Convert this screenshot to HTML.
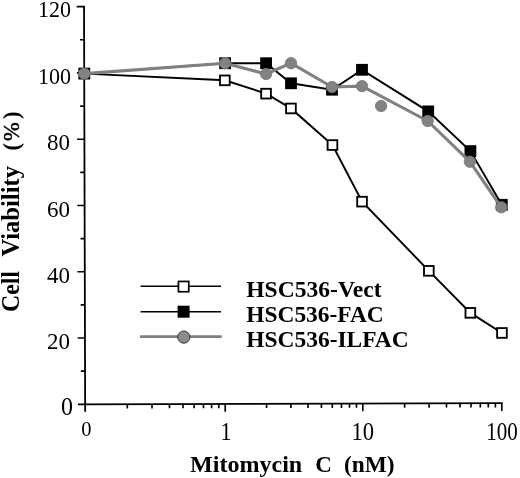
<!DOCTYPE html>
<html lang="en"><head><meta charset="utf-8"><title>Cell Viability vs Mitomycin C</title>
<style>html,body{margin:0;padding:0;background:#fff}body{width:520px;height:478px;overflow:hidden}</style></head>
<body>
<svg width="520" height="478" viewBox="0 0 520 478" style="display:block">
<rect width="520" height="478" fill="#fff"/>
<g stroke="#000" stroke-width="1.8" fill="none" stroke-linecap="butt" transform="rotate(-0.16 85.15 404.3)">
<path d="M85.15 5.69V411.7"/>
<path d="M77.85 404.3H502.7"/>
<g stroke-width="1.65">
<path d="M77.85 338.02H85.15"/>
<path d="M77.85 271.75H85.15"/>
<path d="M77.85 205.47H85.15"/>
<path d="M77.85 139.20H85.15"/>
<path d="M77.85 72.92H85.15"/>
<path d="M77.85 6.64H85.15"/>
<path d="M80.95 371.16H85.15"/>
<path d="M80.95 304.89H85.15"/>
<path d="M80.95 238.61H85.15"/>
<path d="M80.95 172.33H85.15"/>
<path d="M80.95 106.06H85.15"/>
<path d="M80.95 39.78H85.15"/>
<path d="M225.2 404.3V412.1"/>
<path d="M362.8 404.3V412.1"/>
<path d="M501.8 404.3V412.1"/>
<path d="M127.3 404.3V408.6"/>
<path d="M152.0 404.3V408.6"/>
<path d="M169.5 404.3V408.6"/>
<path d="M183.0 404.3V408.6"/>
<path d="M194.1 404.3V408.6"/>
<path d="M203.5 404.3V408.6"/>
<path d="M211.6 404.3V408.6"/>
<path d="M218.8 404.3V408.6"/>
<path d="M266.6 404.3V408.6"/>
<path d="M290.9 404.3V408.6"/>
<path d="M308.0 404.3V408.6"/>
<path d="M321.4 404.3V408.6"/>
<path d="M332.3 404.3V408.6"/>
<path d="M341.5 404.3V408.6"/>
<path d="M349.5 404.3V408.6"/>
<path d="M356.5 404.3V408.6"/>
<path d="M404.6 404.3V408.6"/>
<path d="M429.1 404.3V408.6"/>
<path d="M446.5 404.3V408.6"/>
<path d="M460.0 404.3V408.6"/>
<path d="M471.0 404.3V408.6"/>
<path d="M480.3 404.3V408.6"/>
<path d="M488.3 404.3V408.6"/>
<path d="M495.4 404.3V408.6"/>
</g></g>
<polyline points="84.3,73.6 224.8,80.3 266.1,93.6 291,108.4 332.5,145.1 362.1,201.7 428.9,270.9 470.4,312.9 502,333" fill="none" stroke="#000" stroke-width="1.95"/>
<polyline points="84.3,73.6 225.1,63.2 266.1,63.2 291,83.3 332.0,89.7 361.95,69.85 428.2,111.4 470.4,151.1 501.8,204.8" fill="none" stroke="#000" stroke-width="1.95"/>
<rect x="78.4" y="67.7" width="11.8" height="11.8" fill="#000"/>
<rect x="219.2" y="57.3" width="11.8" height="11.8" fill="#000"/>
<rect x="260.2" y="57.3" width="11.8" height="11.8" fill="#000"/>
<rect x="285.1" y="77.4" width="11.8" height="11.8" fill="#000"/>
<rect x="326.1" y="83.8" width="11.8" height="11.8" fill="#000"/>
<rect x="356.1" y="63.9" width="11.8" height="11.8" fill="#000"/>
<rect x="422.3" y="105.5" width="11.8" height="11.8" fill="#000"/>
<rect x="464.5" y="145.2" width="11.8" height="11.8" fill="#000"/>
<rect x="495.9" y="198.9" width="11.8" height="11.8" fill="#000"/>
<rect x="220.0" y="75.5" width="9.7" height="9.7" fill="#fff" stroke="#000" stroke-width="1.85"/>
<rect x="261.2" y="88.8" width="9.7" height="9.7" fill="#fff" stroke="#000" stroke-width="1.85"/>
<rect x="286.1" y="103.6" width="9.7" height="9.7" fill="#fff" stroke="#000" stroke-width="1.85"/>
<rect x="327.6" y="140.2" width="9.7" height="9.7" fill="#fff" stroke="#000" stroke-width="1.85"/>
<rect x="357.2" y="196.8" width="9.7" height="9.7" fill="#fff" stroke="#000" stroke-width="1.85"/>
<rect x="424.0" y="266.0" width="9.7" height="9.7" fill="#fff" stroke="#000" stroke-width="1.85"/>
<rect x="465.5" y="308.0" width="9.7" height="9.7" fill="#fff" stroke="#000" stroke-width="1.85"/>
<rect x="497.1" y="328.1" width="9.7" height="9.7" fill="#fff" stroke="#000" stroke-width="1.85"/>
<polyline points="84.3,73.6 225.1,63.2 266.1,74 291,63.2 332.0,87.0 362.0,86.1 427.7,121 469.9,161.7 501.3,207.3" fill="none" stroke="#808080" stroke-width="3.1" stroke-linejoin="round"/>
<circle cx="84.3" cy="73.6" r="5.7" fill="#828282" stroke="#777" stroke-width="0.8"/>
<circle cx="225.1" cy="63.2" r="5.7" fill="#828282" stroke="#777" stroke-width="0.8"/>
<circle cx="266.1" cy="74" r="5.7" fill="#828282" stroke="#777" stroke-width="0.8"/>
<circle cx="291" cy="63.2" r="5.7" fill="#828282" stroke="#777" stroke-width="0.8"/>
<circle cx="332.0" cy="87.0" r="5.7" fill="#828282" stroke="#777" stroke-width="0.8"/>
<circle cx="362.0" cy="86.1" r="5.7" fill="#828282" stroke="#777" stroke-width="0.8"/>
<circle cx="427.7" cy="121" r="5.7" fill="#828282" stroke="#777" stroke-width="0.8"/>
<circle cx="469.9" cy="161.7" r="5.7" fill="#828282" stroke="#777" stroke-width="0.8"/>
<circle cx="501.3" cy="207.3" r="5.7" fill="#828282" stroke="#777" stroke-width="0.8"/>
<circle cx="381.1" cy="106" r="5.7" fill="#828282" stroke="#777" stroke-width="0.8"/>
<path d="M140.6 286.3H221M140.6 311.7H221" stroke="#000" stroke-width="1.6"/>
<path d="M140.1 336.6H221.8" stroke="#808080" stroke-width="2.8"/>
<rect x="178.45" y="281.45000000000005" width="10.3" height="10.3" fill="#fff" stroke="#000" stroke-width="1.7"/>
<rect x="177.6" y="305.7" width="12" height="12" fill="#000"/>
<circle cx="183.79999999999998" cy="337.1" r="6.1" fill="#8c8c8c" stroke="#333" stroke-width="1"/>
<g font-family="'Liberation Serif', serif" fill="#000">
<g font-weight="bold" font-size="23.3px">
<text x="246.3" y="297.1" textLength="135.2" lengthAdjust="spacingAndGlyphs">HSC536-Vect</text>
<text x="246.3" y="322.4" textLength="137.4" lengthAdjust="spacingAndGlyphs">HSC536-FAC</text>
<text x="246.3" y="347.1" textLength="162.4" lengthAdjust="spacingAndGlyphs">HSC536-ILFAC</text>
</g>
<g font-size="24px" text-anchor="end">
<text x="73.0" y="415.3" font-size="25px" textLength="12" lengthAdjust="spacingAndGlyphs">0</text>
<text x="69.9" y="349.0" font-size="24px" textLength="23.0" lengthAdjust="spacingAndGlyphs">20</text>
<text x="69.9" y="282.7" font-size="24px" textLength="23.0" lengthAdjust="spacingAndGlyphs">40</text>
<text x="69.9" y="216.5" font-size="24px" textLength="23.0" lengthAdjust="spacingAndGlyphs">60</text>
<text x="69.9" y="150.2" font-size="24px" textLength="23.0" lengthAdjust="spacingAndGlyphs">80</text>
<text x="71.0" y="83.9" font-size="24px" textLength="33.0" lengthAdjust="spacingAndGlyphs">100</text>
<text x="71.0" y="16.8" font-size="24px" textLength="33.0" lengthAdjust="spacingAndGlyphs">120</text>
</g>
<g font-size="24.4px" text-anchor="middle">
<text x="86.4" y="436.1" font-size="20.5px">0</text>
<text x="225.9" y="440.0" textLength="11" lengthAdjust="spacingAndGlyphs">1</text>
<text x="362.7" y="439.9" textLength="22.6" lengthAdjust="spacingAndGlyphs">10</text>
<text x="502.1" y="439.8" textLength="31.6" lengthAdjust="spacingAndGlyphs">100</text>
</g>
<text y="471.7" font-weight="bold" font-size="23.6px" lengthAdjust="spacingAndGlyphs"><tspan x="190.0" textLength="112.2" lengthAdjust="spacingAndGlyphs">Mitomycin</tspan> <tspan x="315.2" textLength="16.6" lengthAdjust="spacingAndGlyphs">C</tspan> <tspan x="344.0" textLength="50.6" lengthAdjust="spacingAndGlyphs">(nM)</tspan></text>
<text transform="translate(18.6,312.0) rotate(-90)" font-weight="bold" font-size="24.2px"><tspan x="0" textLength="41.0" lengthAdjust="spacingAndGlyphs">Cell</tspan> <tspan x="55.4" textLength="90.6" lengthAdjust="spacingAndGlyphs">Viability</tspan> <tspan x="161.4" font-size="22.5px">(</tspan><tspan x="171.1" font-weight="normal" font-size="22.5px" stroke="#000" stroke-width="0.45">%</tspan><tspan x="193.1" font-size="22.5px">)</tspan></text>
</g>
</svg>
</body></html>
